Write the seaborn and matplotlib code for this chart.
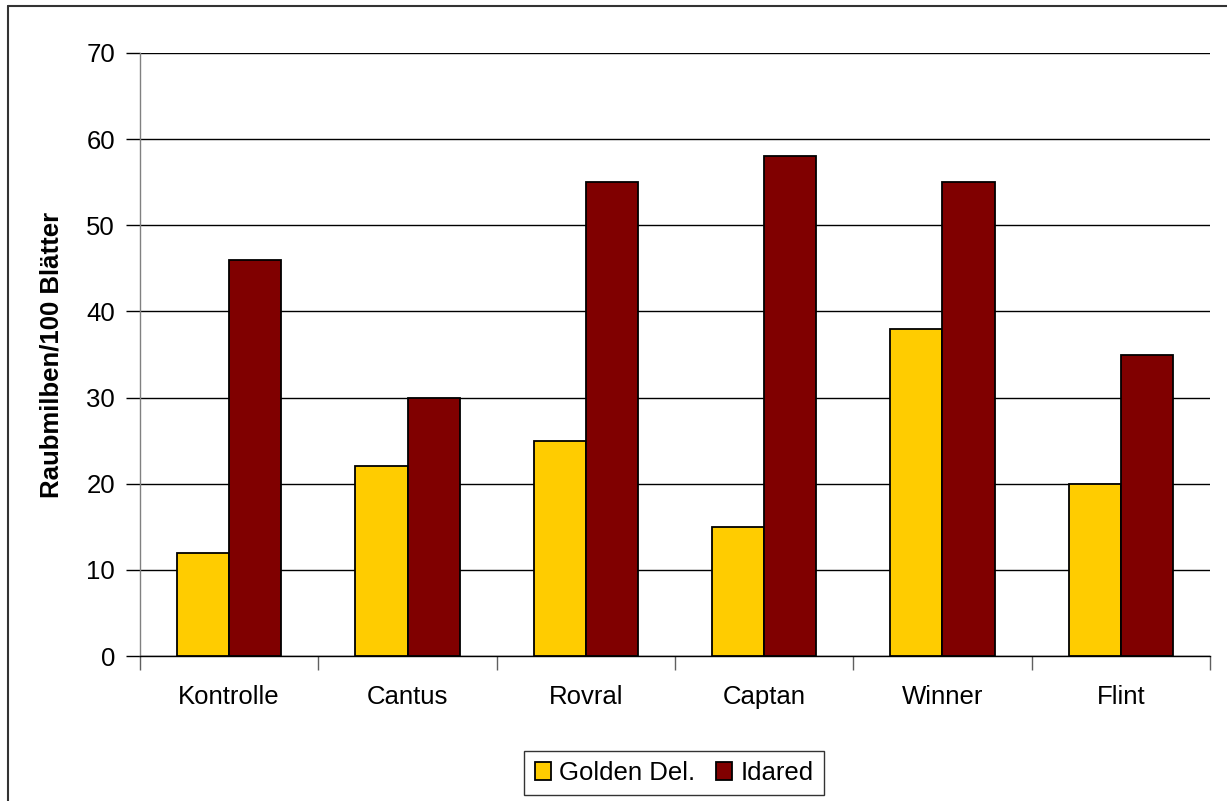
import matplotlib
matplotlib.use("Agg")
import matplotlib.pyplot as plt
import seaborn as sns
import pandas as pd
from matplotlib.patches import Patch
from matplotlib.lines import Line2D
from matplotlib.ticker import FixedLocator

categories = ["Kontrolle", "Cantus", "Rovral", "Captan", "Winner", "Flint"]
golden_del = [12, 22, 25, 15, 38, 20]
idared = [46, 30, 55, 58, 55, 35]
series_names = ["Golden Del.", "Idared"]
y_ticks = [0, 10, 20, 30, 40, 50, 60, 70]
colors = ["#FFCC00", "#800000"]

df = pd.DataFrame({
    "Kategorie": categories * 2,
    "Wert": golden_del + idared,
    "Sorte": [series_names[0]] * len(categories) + [series_names[1]] * len(categories),
})

sns.set_theme(style="white")
plt.rcParams["font.family"] = ["Liberation Sans", "DejaVu Sans"]
plt.rcParams["text.color"] = "black"
plt.rcParams["axes.labelcolor"] = "black"
plt.rcParams["xtick.color"] = "black"
plt.rcParams["ytick.color"] = "black"

FS = 18.5

fig = plt.figure(figsize=(12.27, 8.01), dpi=100)
ax = fig.add_axes([140 / 1227, 1 - 656 / 801, (1210 - 140) / 1227, (656 - 53) / 801])

sns.barplot(data=df, x="Kategorie", y="Wert", hue="Sorte", order=categories,
            hue_order=series_names, palette=colors, width=0.585, gap=0,
            edgecolor="black", linewidth=1.3, saturation=1, ax=ax, legend=False,
            zorder=3)

ax.set_xlim(-0.5, len(categories) - 0.5)
ax.set_ylim(0, 70)
ax.set_yticks(y_ticks)
ax.yaxis.grid(True, color="black", linewidth=1.0, zorder=0)
ax.set_axisbelow(True)

for s in ["top", "right"]:
    ax.spines[s].set_visible(False)
ax.spines["left"].set_color("#808080")
ax.spines["left"].set_linewidth(1.0)
ax.spines["bottom"].set_color("black")
ax.spines["bottom"].set_linewidth(1.0)

ax.tick_params(axis="y", which="major", length=10, width=1.0, color="black",
               direction="out", pad=8, labelsize=FS, left=True, labelcolor="black")
ax.tick_params(axis="x", which="major", length=0, pad=21, labelsize=FS, labelcolor="black")
ax.xaxis.set_minor_locator(FixedLocator([i - 0.5 for i in range(len(categories) + 1)]))
ax.tick_params(axis="x", which="minor", length=10, width=1.0, color="#606060",
               direction="out", bottom=True)

ax.set_xlabel("")
ax.set_ylabel("Raubmilben/100 Blätter", fontsize=FS, fontweight="bold", color="black")
ax.yaxis.set_label_coords(-(140 - 64) / 1070, 0.5)

handles = [Patch(facecolor=c, edgecolor="black", linewidth=1.3) for c in colors]
leg = fig.legend(handles, series_names, loc="center", bbox_to_anchor=(674 / 1227, 1 - 773 / 801),
                 ncol=2, frameon=True, fontsize=FS, handlelength=0.65, handleheight=0.65,
                 handletextpad=0.3, columnspacing=0.8, borderpad=0.4, fancybox=False,
                 labelcolor="black")
leg.get_frame().set_edgecolor("black")
leg.get_frame().set_linewidth(1.0)

x0 = 8 / 1227
y0 = 1 - 6 / 801
fig.add_artist(Line2D([x0, x0], [0, y0], transform=fig.transFigure, color="#333333", linewidth=1.5))
fig.add_artist(Line2D([x0, 1], [y0, y0], transform=fig.transFigure, color="#333333", linewidth=1.5))

fig.savefig("out.png", dpi=100, facecolor="white")
